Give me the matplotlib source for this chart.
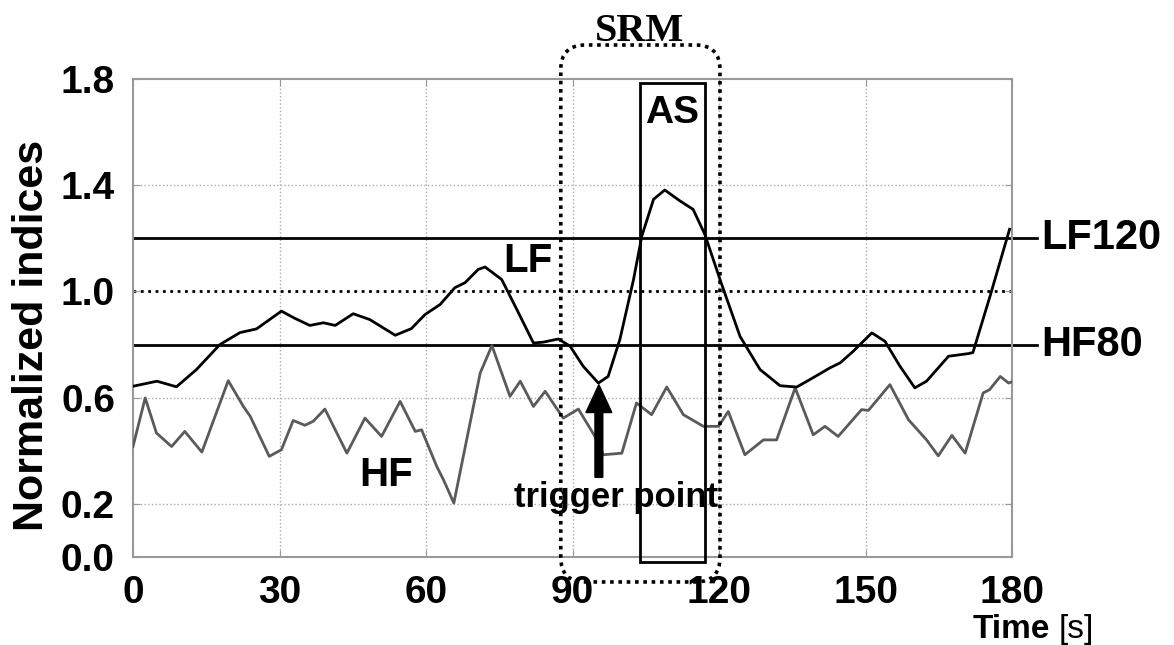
"""
Normalized LF / HF indices over time with the SRM window, AS box and trigger point.
"""

import matplotlib.pyplot as plt
from matplotlib.patches import FancyBboxPatch, Rectangle

plt.rcParams['font.family'] = ['Liberation Sans', 'DejaVu Sans']

# Data
lf_t = [0, 4.9, 8.9, 13, 17.8, 21.9, 25.3, 30.4, 33, 36.2, 39, 41.4, 45.1, 48.5,
        53.7, 57, 59.8, 62.9, 65.9, 68, 70.7, 72.1, 75.5, 78.6, 82, 84, 87.1,
        89.5, 92.2, 95.3, 97.3, 99.7, 102.5, 104.2, 106.6, 108.9, 112, 114.7,
        117.1, 120.2, 124.3, 128.4, 132.5, 135.9, 138.6, 142.7, 144.8, 147.5,
        151.3, 154, 157, 160.1, 162.5, 167, 171.1, 172, 175.5, 179.5]
lf_v = [0.643, 0.662, 0.641, 0.706, 0.80, 0.845, 0.859, 0.926, 0.90, 0.872,
        0.882, 0.872, 0.916, 0.894, 0.835, 0.86, 0.913, 0.951, 1.014, 1.033,
        1.083, 1.092, 1.045, 0.932, 0.806, 0.809, 0.821, 0.794, 0.718, 0.655,
        0.68, 0.819, 1.045, 1.209, 1.347, 1.382, 1.341, 1.309, 1.215, 1.045,
        0.831, 0.706, 0.645, 0.64, 0.668, 0.712, 0.731, 0.775, 0.844, 0.812,
        0.72, 0.637, 0.662, 0.756, 0.766, 0.77, 0.982, 1.234]

hf_t = [0, 2.5, 4.8, 7.9, 10.6, 14.1, 19.5, 22.6, 24, 27.9, 30.4, 32.8, 35.2,
        36.9, 39.3, 43.8, 47.5, 50.9, 54.7, 57.8, 59.1, 62.2, 63.6, 65.7, 71.1,
        73.5, 77.2, 79.3, 82, 84.4, 88.1, 91.2, 94.6, 96.3, 100.1, 103.1, 106.2,
        109.3, 112.7, 116.8, 119.9, 121.9, 125.3, 129.1, 131.8, 135.6, 139.3,
        141.7, 144.4, 149.2, 150.6, 153, 155, 158.8, 162.5, 164.9, 167.7, 170.4,
        174.1, 175.4, 177.6, 179.3, 180]
hf_v = [0.416, 0.599, 0.467, 0.416, 0.473, 0.395, 0.664, 0.567, 0.53, 0.379,
        0.404, 0.514, 0.496, 0.511, 0.557, 0.391, 0.523, 0.454, 0.586, 0.473,
        0.479, 0.341, 0.29, 0.203, 0.693, 0.796, 0.605, 0.662, 0.567, 0.624,
        0.523, 0.557, 0.454, 0.385, 0.391, 0.58, 0.536, 0.64, 0.536, 0.492,
        0.492, 0.548, 0.385, 0.441, 0.441, 0.637, 0.46, 0.492, 0.454, 0.555,
        0.552, 0.605, 0.649, 0.517, 0.441, 0.381, 0.458, 0.391, 0.618, 0.63,
        0.68, 0.655, 0.66]

lf120 = 1.2
hf80 = 0.8
srm_window = [87.6, 120.2]
as_window = [103.8, 117.1]
trigger = [95.4, 0.649]

x_ticks = [0, 30, 60, 90, 120, 150, 180]
y_ticks = [0.0, 0.2, 0.6, 1.0, 1.4, 1.8]

fig = plt.figure(figsize=(11.74, 6.45), dpi=100)
ax = fig.add_axes([133 / 1174, 1 - 557 / 645, 879 / 1174, 478 / 645])

ax.set_xlim(0, 180)
ax.set_ylim(0, 1.8)
ax.set_xticks(x_ticks)
ax.set_yticks(y_ticks)
ax.set_xticklabels([str(t) for t in x_ticks], fontsize=28, fontweight='bold')
ax.set_yticklabels([f"{v:.1f}" for v in y_ticks], fontsize=28, fontweight='bold')
ax.tick_params(axis='x', direction='in', length=5, color='#999999', pad=13,
               top=True)
ax.tick_params(axis='y', direction='in', length=5, color='#999999', pad=13,
               right=True)
for s in ax.spines.values():
    s.set_color('#999999')
    s.set_linewidth(1.5)

# grid: gray dotted, except the 1.0 line which is black
for x in x_ticks[1:-1]:
    ax.axvline(x, color='#aaaaaa', lw=1, ls=':', zorder=0)
for y in [0.2, 0.6, 1.4]:
    ax.axhline(y, color='#aaaaaa', lw=1, ls=':', zorder=0)
ax.axhline(1.0, color='black', lw=2, ls=':', zorder=0)

# threshold lines run past the right edge to their labels
ax.plot([0, 185.2], [lf120, lf120], color='black', lw=2, clip_on=False)
ax.plot([0, 185.2], [hf80, hf80], color='black', lw=2, clip_on=False)
ax.text(186, lf120, 'LF120', fontsize=30, fontweight='bold', va='center',
        ha='left')
ax.text(186, hf80, 'HF80', fontsize=30, fontweight='bold', va='center',
        ha='left')

ax.plot(hf_t, hf_v, color='#5a5a5a', lw=2, zorder=3, solid_joinstyle='round')
ax.plot(lf_t, lf_v, color='black', lw=2, zorder=4, solid_joinstyle='round')

ax.text(80.9, 1.113, 'LF', fontsize=29, fontweight='bold', ha='center',
        va='center')
ax.text(51.9, 0.309, 'HF', fontsize=29, fontweight='bold', ha='center',
        va='center')

# AS box
ax.add_patch(Rectangle((as_window[0], -0.02), as_window[1] - as_window[0], 1.805,
                       fill=False, ec='black', lw=2, clip_on=False, zorder=5))
ax.text(sum(as_window) / 2, 1.672, 'AS', fontsize=28, fontweight='bold',
        ha='center', va='center')

# SRM dotted rounded box
srm = FancyBboxPatch((srm_window[0], -0.094), srm_window[1] - srm_window[0], 2.022,
                     boxstyle='round,pad=0,rounding_size=5',
                     mutation_aspect=4.883 / 265, fill=False, ec='black',
                     lw=2.6, ls=(0, (1, 1.3)), clip_on=False, zorder=5)
ax.add_patch(srm)
ax.text(103.8, 1.943, 'SRM', fontsize=29, fontweight='bold',
        family='Liberation Serif', ha='center', va='baseline')

# trigger point arrow
ax.arrow(trigger[0], 0.30, 0, trigger[1] - 0.30, width=1.6, head_width=5.3,
         head_length=0.105, length_includes_head=True, color='black', zorder=6)
ax.text(98.9, 0.19, 'trigger point', fontsize=25, fontweight='bold',
        ha='center', va='baseline', zorder=6)

fig.text(32 / 1174, 1 - 335 / 645, 'Normalized indices', fontsize=31,
         fontweight='bold', rotation=90, ha='center', va='center')
fig.text(973 / 1174, 1 - 638 / 645, 'Time', fontsize=24, fontweight='bold',
         ha='left', va='baseline')
fig.text(1059 / 1174, 1 - 638 / 645, '[s]', fontsize=24, ha='left',
         va='baseline')

fig.savefig('out.png', dpi=100)
